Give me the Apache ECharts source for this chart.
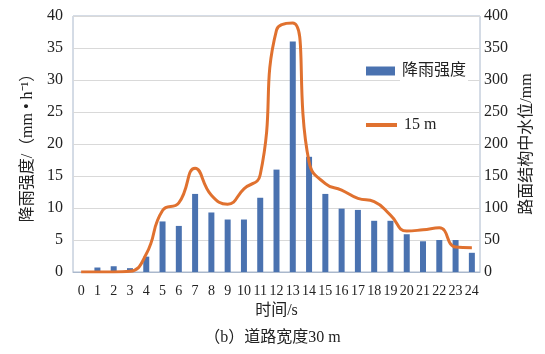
<!DOCTYPE html>
<html>
<head>
<meta charset="utf-8">
<script src="https://cdn.jsdelivr.net/npm/echarts@6/dist/echarts.min.js"></script>
<style>
  html, body { margin: 0; padding: 0; background: #ffffff; }
  #chart { width: 545px; height: 354px; }
</style>
</head>
<body>
<div id="chart"></div>
<script>
// Time steps (s)
const timeLabels = ['0','1','2','3','4','5','6','7','8','9','10','11','12','13','14','15','16','17','18','19','20','21','22','23','24'];
// Rainfall intensity (mm·h⁻¹), bars on the left axis
const rainIntensity = [0, 0.7, 0.9, 0.6, 2.4, 7.9, 7.2, 12.2, 9.3, 8.2, 8.2, 11.6, 16.0, 36.0, 18.0, 12.2, 9.9, 9.7, 8.0, 8.0, 5.9, 4.8, 5.0, 5.0, 3.0];
// Water level inside pavement structure (mm), 15 m line on the right axis
const waterLevel15m = [0, 0, 0, 1, 28, 96, 108, 162, 120, 106, 130, 152, 378, 389, 172, 138, 128, 115, 110, 89, 64, 66, 69, 39, 38];

const serif = '"Liberation Serif", "Noto Sans CJK SC", serif';
const legendText = { fontFamily: serif, fontSize: 16, color: '#222', backgroundColor: '#ffffff', padding: [2, 2] };
const chart = echarts.init(document.getElementById('chart'));

chart.setOption({
  backgroundColor: '#ffffff',
  animation: false,
  grid: { left: 73, right: 65, top: 16, bottom: 82, show: true, borderColor: '#aab8cc', borderWidth: 1, backgroundColor: '#ffffff' },
  legend: [
    {
      left: 361, top: 56,
      itemWidth: 29, itemHeight: 9,
      textStyle: legendText,
      data: [{ name: '降雨强度', icon: 'rect' }]
    },
    {
      left: 361, top: 110,
      itemWidth: 31, itemHeight: 4,
      textStyle: legendText,
      data: [{ name: '15 m', icon: 'rect' }]
    }
  ],
  xAxis: {
    type: 'category',
    data: timeLabels,
    boundaryGap: true,
    axisLine: { show: true, lineStyle: { color: '#aab8cc' } },
    axisTick: { show: false },
    axisLabel: { interval: 0, fontFamily: serif, fontSize: 14, color: '#222', margin: 12 },
    name: '时间/s',
    nameLocation: 'middle',
    nameGap: 31,
    nameTextStyle: { fontFamily: serif, fontSize: 16, color: '#222' }
  },
  yAxis: [
    {
      type: 'value',
      min: 0, max: 40, interval: 5,
      position: 'left',
      axisLine: { show: false },
      axisTick: { show: false },
      splitLine: { lineStyle: { color: '#d9d9d9' } },
      axisLabel: { fontFamily: serif, fontSize: 16, color: '#222', margin: 10 },
      name: '降雨强度/（mm • h⁻¹）',
      nameLocation: 'middle',
      nameRotate: 90,
      nameGap: 36,
      nameTextStyle: { fontFamily: serif, fontSize: 16, color: '#222' }
    },
    {
      type: 'value',
      min: 0, max: 400, interval: 50,
      position: 'right',
      axisLine: { show: false },
      axisTick: { show: false },
      splitLine: { show: false },
      axisLabel: { fontFamily: serif, fontSize: 16, color: '#222', margin: 4 },
      name: '路面结构中水位/mm',
      nameLocation: 'middle',
      nameRotate: 90,
      nameGap: 26,
      nameTextStyle: { fontFamily: serif, fontSize: 16, color: '#222' }
    }
  ],
  title: {
    text: '（b）道路宽度30 m',
    left: 'center',
    top: 330,
    textStyle: { fontFamily: serif, fontSize: 16, fontWeight: 'normal', color: '#222' },
    padding: 0
  },
  series: [
    {
      name: '降雨强度',
      type: 'bar',
      yAxisIndex: 0,
      data: rainIntensity,
      barWidth: 6,
      itemStyle: { color: '#4a72b0' }
    },
    {
      name: '15 m',
      type: 'line',
      yAxisIndex: 1,
      data: waterLevel15m,
      smooth: 0.5,
      symbol: 'none',
      lineStyle: { color: '#e0712f', width: 3 },
      itemStyle: { color: '#e0712f' }
    }
  ]
});
</script>
</body>
</html>
